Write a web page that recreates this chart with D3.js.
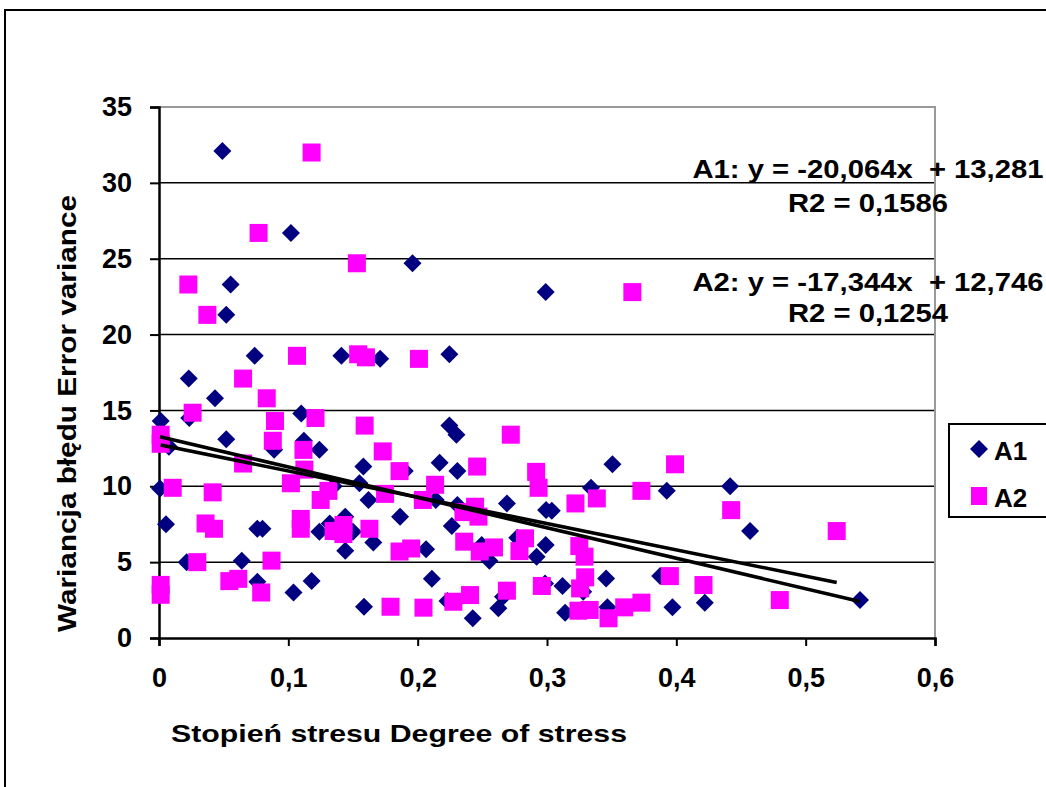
<!DOCTYPE html>
<html>
<head>
<meta charset="utf-8">
<script src="https://cdn.jsdelivr.net/npm/d3@7"></script>
<style>
  body { margin: 0; background: #fff; }
  svg { display: block; font-family: Arial, "Liberation Sans", sans-serif; font-weight: bold; }
  text { white-space: pre; }
</style>
</head>
<body>
<div id="chart"></div>
<script>
// A1 series (diamonds): [stress degree, error variance]
const seriesA1 = [
  [0.049, 32.1], [0.102, 26.7], [0.196, 24.7], [0.0554, 23.3], [0.299, 22.8],
  [0.052, 21.3], [0.074, 18.6], [0.141, 18.6], [0.171, 18.4], [0.2245, 18.7],
  [0.023, 17.1], [0.0433, 15.8], [0.0234, 14.5], [0.0013, 14.3], [0.110, 14.8],
  [0.2245, 14.0], [0.230, 13.4], [0.0077, 12.6], [0.052, 13.1], [0.089, 12.4],
  [0.112, 13.0], [0.124, 12.4], [0.158, 11.3], [0.190, 11.0], [0.217, 11.55],
  [0.2307, 11.0], [0.3506, 11.45], [0.155, 10.2], [0.162, 9.1], [0.214, 9.1],
  [0.135, 10.0], [0.0008, 9.86], [0.334, 9.9], [0.3926, 9.7], [0.4416, 10.0],
  [0.2307, 8.76], [0.269, 8.87], [0.2993, 8.43], [0.3037, 8.39], [0.0054, 7.5],
  [0.076, 7.2], [0.080, 7.2], [0.124, 7.0], [0.132, 7.55], [0.144, 8.0],
  [0.150, 7.0], [0.1657, 6.3], [0.1864, 8.0], [0.2264, 7.38], [0.457, 7.05],
  [0.144, 5.75], [0.2065, 5.85], [0.2495, 6.13], [0.2555, 5.1], [0.277, 6.6],
  [0.292, 5.36], [0.299, 6.13], [0.0214, 5.0], [0.064, 5.1], [0.211, 3.9],
  [0.076, 3.7], [0.104, 3.0], [0.118, 3.75], [0.1585, 2.06], [0.328, 3.05],
  [0.3457, 3.93], [0.3875, 4.08], [0.422, 2.33], [0.397, 2.02], [0.3467, 2.02],
  [0.314, 1.67], [0.312, 3.43], [0.2985, 3.6], [0.266, 2.72], [0.2624, 1.96],
  [0.223, 2.44], [0.2426, 1.3], [0.542, 2.5],
];

// A2 series (squares)
const seriesA2 = [
  [0.118, 32.0], [0.077, 26.7], [0.153, 24.7], [0.0227, 23.3], [0.0374, 21.3],
  [0.366, 22.8], [0.1067, 18.6], [0.154, 18.7], [0.160, 18.5], [0.201, 18.4],
  [0.065, 17.1], [0.0833, 15.8], [0.026, 14.85], [0.0897, 14.3], [0.121, 14.5],
  [0.159, 14.0], [0.0013, 13.4], [0.0013, 12.8], [0.088, 13.0], [0.1117, 12.4],
  [0.173, 12.3], [0.186, 11.0], [0.2135, 10.1], [0.1748, 9.5], [0.204, 9.1],
  [0.065, 11.5], [0.102, 10.2], [0.1124, 11.1], [0.131, 9.7], [0.125, 9.1],
  [0.0106, 9.9], [0.0415, 9.6], [0.036, 7.55], [0.0425, 7.2], [0.1096, 7.85],
  [0.1096, 7.2], [0.135, 7.05], [0.1426, 7.45], [0.1426, 6.85], [0.1627, 7.2],
  [0.186, 5.7], [0.195, 5.9], [0.0296, 5.0], [0.087, 5.1], [0.0013, 3.5],
  [0.0013, 2.85], [0.0544, 3.75], [0.0613, 3.9], [0.079, 3.0], [0.179, 2.06],
  [0.2045, 2.0], [0.272, 13.4], [0.246, 11.3], [0.399, 11.45], [0.2916, 10.95],
  [0.2935, 9.9], [0.373, 9.7], [0.2444, 8.65], [0.2354, 8.3], [0.247, 8.0],
  [0.322, 8.87], [0.3385, 9.2], [0.236, 6.35], [0.248, 5.7], [0.259, 5.97],
  [0.283, 6.57], [0.2787, 5.73], [0.325, 6.06], [0.329, 5.36], [0.3295, 4.0],
  [0.3256, 3.27], [0.421, 3.49], [0.373, 2.33], [0.3597, 2.02], [0.3476, 1.3],
  [0.3243, 1.8], [0.333, 1.85], [0.296, 3.43], [0.269, 3.12], [0.2405, 2.83],
  [0.2276, 2.39], [0.4424, 8.43], [0.524, 7.05], [0.480, 2.5], [0.395, 4.08],
];

// trendlines as printed on the chart: [slope, intercept]
const trendA1 = [-20.064, 13.281];
const trendA2 = [-17.344, 12.746];

const xTicks = [0, 0.1, 0.2, 0.3, 0.4, 0.5, 0.6];
const yTicks = [0, 5, 10, 15, 20, 25, 30, 35];

const equationLabels = [
  "A1: y = -20,064x  + 13,281",
  "R2 = 0,1586",
  "A2: y = -17,344x  + 12,746",
  "R2 = 0,1254",
];
const legendLabels = ["A1", "A2"];

const xTitle = "Stopień stresu Degree of stress";
const yTitle = "Wariancja błędu Error variance";

const width = 1046;
const height = 787;
const margin = { top: 107, right: 111, bottom: 149, left: 159 };

const colorA1 = "#000080";
const colorA2 = "#ff00ff";

const fmt = (d) => String(d).replace(".", ",");

const x = d3.scaleLinear().domain([0, 0.6]).range([margin.left, width - margin.right]);
const y = d3.scaleLinear().domain([0, 35]).range([height - margin.bottom, margin.top]);

const svg = d3.select("#chart").append("svg")
  .attr("width", width)
  .attr("height", height)
  .attr("viewBox", [0, 0, width, height]);

// outer chart frame (runs off the right and bottom edges)
svg.append("path")
  .attr("d", `M5,${height + 5}V10H${width + 5}`)
  .attr("fill", "none")
  .attr("stroke", "#000")
  .attr("stroke-width", 2);

// gridlines
svg.append("g")
  .selectAll("line")
  .data(yTicks.filter((d) => d > 0 && d < 35))
  .join("line")
  .attr("x1", x(0))
  .attr("x2", x(0.6))
  .attr("y1", (d) => y(d))
  .attr("y2", (d) => y(d))
  .attr("stroke", "#000")
  .attr("stroke-width", 1.5);

// plot area border (grey top and right)
svg.append("path")
  .attr("d", `M${x(0)},${y(35)}H${x(0.6)}V${y(0)}`)
  .attr("fill", "none")
  .attr("stroke", "#999")
  .attr("stroke-width", 2);

// y axis
svg.append("g")
  .attr("transform", `translate(${x(0)},0)`)
  .call(d3.axisLeft(y).tickValues(yTicks).tickSize(9).tickPadding(18).tickFormat(fmt))
  .call((g) => g.select(".domain").attr("stroke-width", 2.5))
  .call((g) => g.selectAll(".tick line").attr("stroke-width", 2))
  .call((g) => g.selectAll(".tick text")
    .attr("font-size", 27)
    .attr("font-family", "Arial, 'Liberation Sans', sans-serif")
    .attr("font-weight", "bold")
    .attr("fill", "#000"));

// x axis
svg.append("g")
  .attr("transform", `translate(0,${y(0)})`)
  .call(d3.axisBottom(x).tickValues(xTicks).tickSize(8).tickPadding(22).tickFormat(fmt))
  .call((g) => g.select(".domain").attr("stroke-width", 2.5))
  .call((g) => g.selectAll(".tick line").attr("stroke-width", 2))
  .call((g) => g.selectAll(".tick text")
    .attr("font-size", 27)
    .attr("font-family", "Arial, 'Liberation Sans', sans-serif")
    .attr("font-weight", "bold")
    .attr("fill", "#000"));

const diamond = (s) => `M0,${-s}L${s},0L0,${s}L${-s},0Z`;

// A1 diamonds
svg.append("g")
  .selectAll("path")
  .data(seriesA1)
  .join("path")
  .attr("d", diamond(9))
  .attr("transform", (d) => `translate(${x(d[0])},${y(d[1])})`)
  .attr("fill", colorA1);

// A2 squares
svg.append("g")
  .selectAll("rect")
  .data(seriesA2)
  .join("rect")
  .attr("x", (d) => x(d[0]) - 9)
  .attr("y", (d) => y(d[1]) - 9)
  .attr("width", 18)
  .attr("height", 18)
  .attr("fill", colorA2);

// trendlines, drawn over each series' x extent
const trend = [
  { coef: trendA1, ext: d3.extent(seriesA1, (d) => d[0]) },
  { coef: trendA2, ext: d3.extent(seriesA2, (d) => d[0]) },
];
svg.append("g")
  .selectAll("line")
  .data(trend)
  .join("line")
  .attr("x1", (d) => x(d.ext[0]))
  .attr("x2", (d) => x(d.ext[1]))
  .attr("y1", (d) => y(d.coef[0] * d.ext[0] + d.coef[1]))
  .attr("y2", (d) => y(d.coef[0] * d.ext[1] + d.coef[1]))
  .attr("stroke", "#000")
  .attr("stroke-width", 3.5);

// regression equations
const eqY = [178, 212, 291, 322];
const eqLen = [351, 160, 351, 160];
svg.append("g")
  .selectAll("text")
  .data(equationLabels)
  .join("text")
  .attr("x", 868)
  .attr("y", (d, i) => eqY[i])
  .attr("text-anchor", "middle")
  .attr("font-size", 26)
  .attr("textLength", (d, i) => eqLen[i])
  .attr("lengthAdjust", "spacingAndGlyphs")
  .text((d) => d);

// axis titles
svg.append("text")
  .attr("x", 171)
  .attr("y", 742)
  .attr("font-size", 24)
  .attr("textLength", 456)
  .attr("lengthAdjust", "spacingAndGlyphs")
  .text(xTitle);

svg.append("text")
  .attr("transform", "translate(76,632) rotate(-90)")
  .attr("font-size", 26)
  .attr("textLength", 437)
  .attr("lengthAdjust", "spacingAndGlyphs")
  .text(yTitle);

// legend
const legend = svg.append("g");
legend.append("rect")
  .attr("x", 949)
  .attr("y", 424)
  .attr("width", 120)
  .attr("height", 93)
  .attr("fill", "#fff")
  .attr("stroke", "#000")
  .attr("stroke-width", 2);

const legendItems = legend.selectAll("g")
  .data(legendLabels)
  .join("g")
  .attr("transform", (d, i) => `translate(979,${449 + i * 47})`);

legendItems.filter((d, i) => i === 0)
  .append("path")
  .attr("d", diamond(9))
  .attr("fill", colorA1);

legendItems.filter((d, i) => i === 1)
  .append("rect")
  .attr("x", -8)
  .attr("y", -9)
  .attr("width", 16)
  .attr("height", 18)
  .attr("fill", colorA2);

legendItems.append("text")
  .attr("x", 15)
  .attr("y", 11)
  .attr("font-size", 26)
  .text((d) => d);
</script>
</body>
</html>
